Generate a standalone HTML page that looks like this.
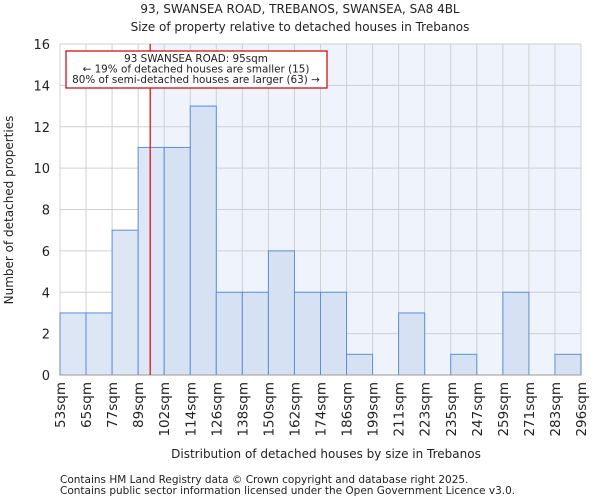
<!DOCTYPE html>
<html><head><meta charset="utf-8"><style>
body{margin:0;background:#fff;font-family:"DejaVu Sans","Liberation Sans",sans-serif;}
svg text{font-family:"DejaVu Sans","Liberation Sans",sans-serif;fill:#222;}
</style></head><body>
<svg id="chart" width="600" height="500" xmlns="http://www.w3.org/2000/svg">
<text x="300" y="13" text-anchor="middle" font-size="12">93, SWANSEA ROAD, TREBANOS, SWANSEA, SA8 4BL</text>
<text x="300" y="31" text-anchor="middle" font-size="12">Size of property relative to detached houses in Trebanos</text>
<g id="plot"></g>
<text x="326" y="458" text-anchor="middle" font-size="12">Distribution of detached houses by size in Trebanos</text>
<text transform="translate(13,210) rotate(-90)" text-anchor="middle" font-size="12">Number of detached properties</text>
<text x="60" y="483" font-size="10.5" fill="#444">Contains HM Land Registry data © Crown copyright and database right 2025.</text>
<text x="60" y="494" font-size="10.5" fill="#444">Contains public sector information licensed under the Open Government Licence v3.0.</text>
</svg>
<script>
const binLabels=["53sqm","65sqm","77sqm","89sqm","102sqm","114sqm","126sqm","138sqm","150sqm","162sqm","174sqm","186sqm","199sqm","211sqm","223sqm","235sqm","247sqm","259sqm","271sqm","283sqm","296sqm"];
const counts=[3,3,7,11,11,13,4,4,6,4,4,1,0,3,0,1,0,4,0,1];
const yTicks=[0,2,4,6,8,10,12,14,16];
const propertySize=95;
const binEdges=[53,65,77,89,102,114,126,138,150,162,174,186,199,211,223,235,247,259,271,283,296];
const L=60,R=581,T=44,B=375,YMAX=16;
const NS="http://www.w3.org/2000/svg";
const g=document.getElementById('plot');
const bw=(R-L)/counts.length;
const x=i=>L+i*bw;
const y=v=>B-(v/YMAX)*(B-T);
function sizeX(s){for(let i=0;i<binEdges.length-1;i++){if(s>=binEdges[i]&&s<=binEdges[i+1])return x(i)+(s-binEdges[i])/(binEdges[i+1]-binEdges[i])*bw;}return L;}
function el(t,a){const e=document.createElementNS(NS,t);for(const k in a)e.setAttribute(k,a[k]);g.appendChild(e);return e;}
const px=sizeX(propertySize);
let e=el('rect',{x:px,y:T,width:R-px,height:B-T,fill:'#eef3fc'});


for(let i=0;i<=counts.length;i++){e=el('line',{x1:x(i),x2:x(i),y1:T,y2:B,stroke:'#d0d0d0','stroke-width':1});

}
yTicks.forEach(v=>{e=el('line',{x1:L,x2:R,y1:y(v),y2:y(v),stroke:'#d0d0d0','stroke-width':1});


const t=el('text',{x:L-10,y:y(v)+5,'text-anchor':'end','font-size':13});t.textContent=v;

});
counts.forEach((c,i)=>{if(c<=0)return;const r=el('rect',{x:x(i),y:y(c),width:bw,height:B-y(c),fill:x(i)<px?'#dde6f4':'#d6e1f3',stroke:'#5b8fd6','stroke-width':1});

});
e=el('line',{x1:L,x2:R,y1:B,y2:B,stroke:'#999'});


binLabels.forEach((lb,i)=>{const t=el('text',{transform:`translate(${x(i)+5},382) rotate(-90)`,'text-anchor':'end','font-size':13.5});t.textContent=lb;

});
e=el('line',{x1:px,x2:px,y1:T,y2:B,stroke:'#d00','stroke-width':1.2});


e=el('rect',{x:66,y:51,width:261,height:37,fill:'#fff',stroke:'#c00','stroke-width':1.2});


["93 SWANSEA ROAD: 95sqm","← 19% of detached houses are smaller (15)","80% of semi-detached houses are larger (63) →"].forEach((s,i)=>{const t=el('text',{x:196,y:62+i*10.5,'text-anchor':'middle','font-size':10.4});t.textContent=s;

});
</script>
</body></html>
